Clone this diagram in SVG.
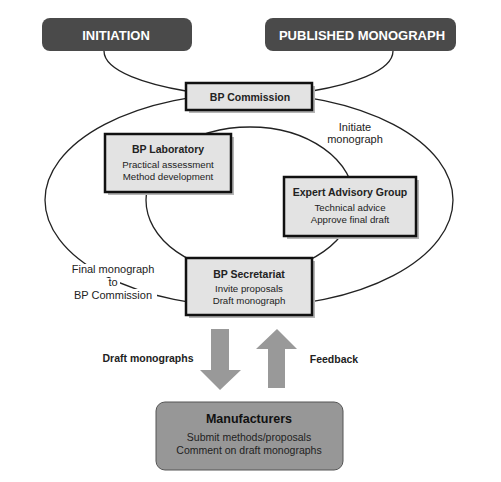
<svg xmlns="http://www.w3.org/2000/svg" width="501" height="482" viewBox="0 0 501 482">
<style>
text{font-family:"Liberation Sans",Arial,sans-serif;fill:#222;text-anchor:middle}
.hd{fill:#4a4a4a}
.hdt{fill:#fff;font-weight:bold;font-size:13px}
.bx{fill:#e3e3e3;stroke:#111;stroke-width:2.5}
.sh{fill:#b5b5b5}
.t{font-weight:bold;font-size:10.5px}
.s{font-size:9.7px}
.lbl{font-size:11px}
.c{fill:none;stroke:#222;stroke-width:1.3}
.ar{fill:#999}
.bg{fill:#fff}
</style>
<rect width="501" height="482" fill="#fff"/>
<g id="connectors">
<path class="c" d="M104,51 C104,72 150,85 186,91"/>
<path class="c" d="M393,51 C393,72 348,85 312,91"/>
<ellipse class="c" cx="249" cy="200" rx="204" ry="107"/>
<ellipse class="c" cx="250" cy="200" rx="104" ry="73"/>
<polygon class="ar" points="211,329 229,329 229,370 241,370 220,390 200,370 211,370"/>
<polygon class="ar" points="277,329 297,349 285,349 285,388 268,388 268,349 256,349"/>
</g>
<g id="label-initiate">
<text class="lbl" x="355" y="131">Initiate</text>
<text class="lbl" x="355" y="143">monograph</text>
</g>
<g id="label-final">
<rect class="bg" x="67" y="264" width="92" height="13"/>
<rect class="bg" x="106" y="278" width="14" height="10"/>
<rect class="bg" x="69" y="289" width="88" height="13"/>
<text class="lbl" x="113" y="273">Final monograph</text>
<text class="lbl" x="113" y="286">to</text>
<text class="lbl" x="113" y="299">BP Commission</text>
</g>
<g id="label-draft">
<text class="t" x="148" y="362">Draft monographs</text>
</g>
<g id="label-feedback">
<text class="t" x="334" y="363">Feedback</text>
</g>
<g id="initiation">
<rect class="hd" x="42" y="18" width="150" height="33" rx="8"/>
<text class="hdt" x="116" y="39.5">INITIATION</text>
</g>
<g id="published">
<rect class="hd" x="265" y="18" width="191" height="33" rx="8"/>
<text class="hdt" x="362" y="39.5">PUBLISHED MONOGRAPH</text>
</g>
<g id="bp-commission">
<rect class="sh" x="189" y="86" width="126" height="27"/>
<rect class="bx" x="186" y="83" width="126" height="27"/>
<text class="t" x="250" y="101">BP Commission</text>
</g>
<g id="bp-laboratory">
<rect class="sh" x="108" y="137" width="126" height="58"/>
<rect class="bx" x="105" y="134" width="126" height="58"/>
<text class="t" x="168" y="153">BP Laboratory</text>
<text class="s" x="168" y="168">Practical assessment</text>
<text class="s" x="168" y="180">Method development</text>
</g>
<g id="expert-advisory-group">
<rect class="sh" x="287" y="180" width="132" height="59"/>
<rect class="bx" x="284" y="177" width="132" height="59"/>
<text class="t" x="350" y="196">Expert Advisory Group</text>
<text class="s" x="350" y="211">Technical advice</text>
<text class="s" x="350" y="223">Approve final draft</text>
</g>
<g id="bp-secretariat">
<rect class="sh" x="189" y="261" width="126" height="57"/>
<rect class="bx" x="186" y="258" width="126" height="57"/>
<text class="t" x="249" y="278">BP Secretariat</text>
<text class="s" x="249" y="292">Invite proposals</text>
<text class="s" x="249" y="304">Draft monograph</text>
</g>
<g id="manufacturers">
<rect x="156" y="402" width="187" height="68" rx="9" fill="#979797" stroke="#555" stroke-width="1"/>
<text x="249" y="423" style="font-weight:bold;font-size:12.5px;fill:#111">Manufacturers</text>
<text x="249" y="441" style="font-size:10.5px">Submit methods/proposals</text>
<text x="249" y="454" style="font-size:10.5px">Comment on draft monographs</text>
</g>
</svg>
